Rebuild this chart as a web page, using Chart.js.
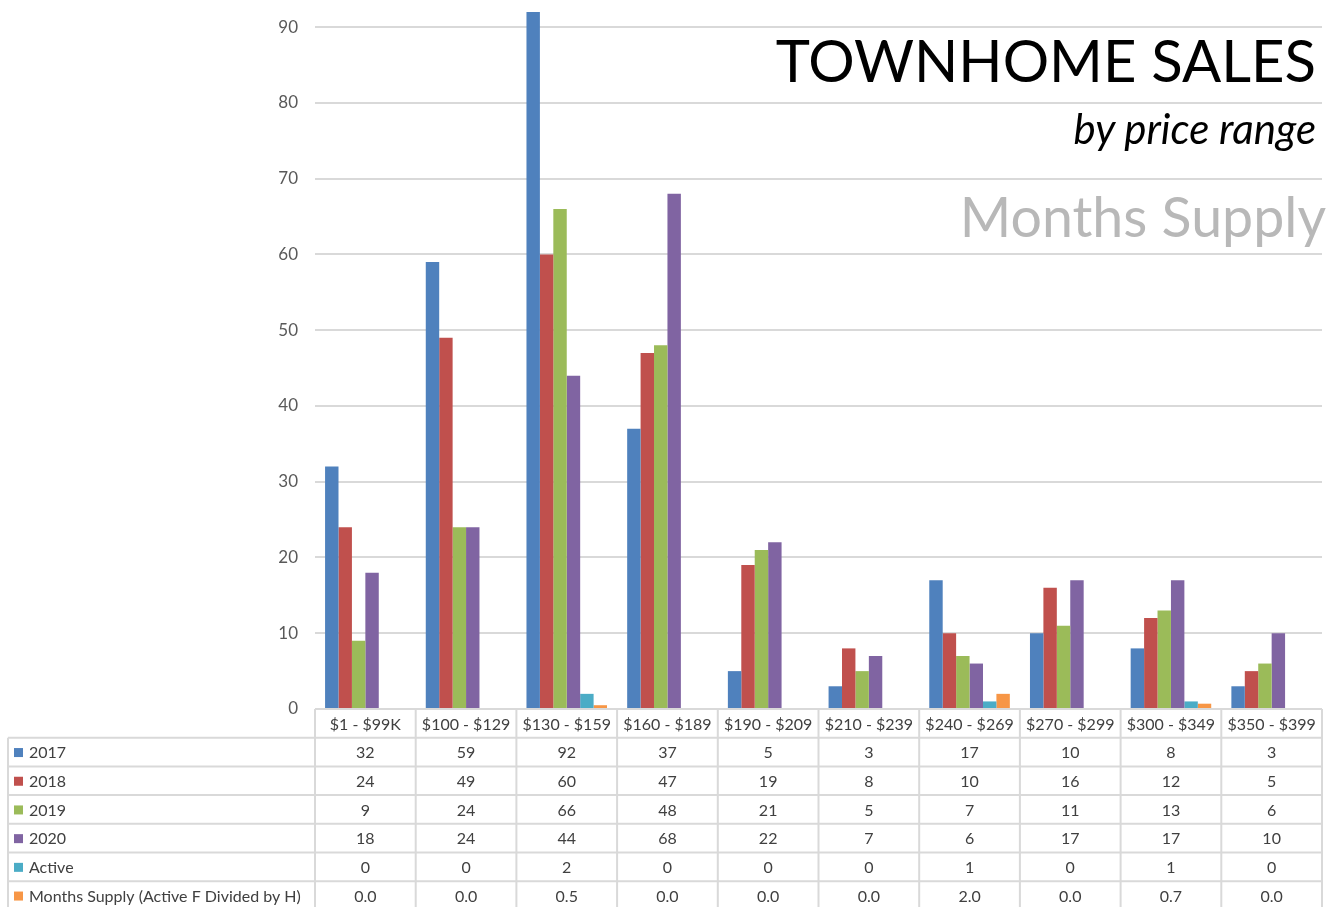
<!DOCTYPE html>
<html>
<head>
<meta charset="utf-8">
<script src="https://cdn.jsdelivr.net/npm/chart.js@4.4.0/dist/chart.umd.min.js"></script>
<style>
  body { margin: 0; background: #fff; overflow: hidden; }
  #wrap { position: relative; width: 1333px; height: 907px; }
  .title { position: absolute; font-family: Lato, sans-serif; white-space: nowrap; line-height: 1; }
</style>
</head>
<body>
<div id="wrap">
  <canvas id="bar-chart"></canvas>
  <div class="title" style="right:17px; top:31px; font-size:58px; color:#000;">TOWNHOME SALES</div>
  <div class="title" style="right:17px; top:107px; font-size:42px; font-style:italic; color:#000;">by price range</div>
  <div class="title" style="right:7px; top:188px; font-size:55.5px; color:#b8b8b8;">Months Supply</div>
</div>
<script>
const categories = ['$1 - $99K', '$100 - $129', '$130 - $159', '$160 - $189', '$190 - $209',
                    '$210 - $239', '$240 - $269', '$270 - $299', '$300 - $349', '$350 - $399'];
const sales2017 = [32, 59, 92, 37, 5, 3, 17, 10, 8, 3];
const sales2018 = [24, 49, 60, 47, 19, 8, 10, 16, 12, 5];
const sales2019 = [9, 24, 66, 48, 21, 5, 7, 11, 13, 6];
const sales2020 = [18, 24, 44, 68, 22, 7, 6, 17, 17, 10];
const active = [0, 0, 2, 0, 0, 0, 1, 0, 1, 0];
const monthsSupply = [0.0, 0.0, 0.5, 0.0, 0.0, 0.0, 2.0, 0.0, 0.7, 0.0];
const yTickValues = [0, 10, 20, 30, 40, 50, 60, 70, 80, 90];

const ctx = document.getElementById('bar-chart');
const textColor = '#595959';
const lineColor = '#d9d9d9';

const series = [
  { label: '2017', data: sales2017, color: '#4f81bd', fmt: v => String(v) },
  { label: '2018', data: sales2018, color: '#c0504d', fmt: v => String(v) },
  { label: '2019', data: sales2019, color: '#9bbb59', fmt: v => String(v) },
  { label: '2020', data: sales2020, color: '#8064a2', fmt: v => String(v) },
  { label: 'Active', data: active, color: '#4bacc6', fmt: v => String(v) },
  { label: 'Months Supply (Active F Divided by H)', data: monthsSupply, color: '#f79646', fmt: v => v.toFixed(1) }
];

// draws the data table under the plot, lined up with the x scale
const dataTable = {
  id: 'dataTable',
  afterDraw(chart) {
    const c = chart.ctx;
    const area = chart.chartArea;
    const x = chart.scales.x;
    const colW = x.width / categories.length;
    const rowH = 28.7;
    const top = area.bottom;
    const left = 8;
    const nRows = series.length + 1;
    const bottom = top + rowH * nRows;

    c.save();
    c.strokeStyle = lineColor;
    c.lineWidth = 2;
    c.beginPath();
    // horizontal lines
    c.moveTo(area.left, top); c.lineTo(area.right, top);
    for (let r = 1; r <= nRows; r++) {
      c.moveTo(left, top + rowH * r); c.lineTo(area.right, top + rowH * r);
    }
    // vertical lines
    c.moveTo(left, top + rowH); c.lineTo(left, bottom);
    for (let i = 0; i <= categories.length; i++) {
      const xx = area.left + colW * i;
      c.moveTo(xx, top); c.lineTo(xx, bottom);
    }
    c.stroke();

    c.font = '16px Lato, sans-serif';
    c.fillStyle = '#404040';
    c.textAlign = 'center';
    c.textBaseline = 'middle';
    categories.forEach((cat, i) => {
      c.fillText(cat, x.getPixelForValue(i), top + rowH / 2 + 1);
    });

    series.forEach((s, r) => {
      const cy = top + rowH * (r + 1.5) + 1;
      c.fillStyle = s.color;
      c.fillRect(14, cy - 5, 9, 9);
      c.fillStyle = '#404040';
      c.textAlign = 'left';
      c.fillText(s.label, 29, cy);
      c.textAlign = 'center';
      s.data.forEach((v, i) => {
        c.fillText(s.fmt(v), x.getPixelForValue(i), cy);
      });
    });
    c.restore();
  }
};

new Chart(ctx, {
  type: 'bar',
  data: {
    labels: categories,
    datasets: series.map(s => ({
      label: s.label,
      data: s.data,
      backgroundColor: s.color,
      borderWidth: 0,
      clip: false,
      categoryPercentage: 0.8,
      barPercentage: 1.0
    }))
  },
  options: {
    responsive: true,
    maintainAspectRatio: false,
    animation: false,
    layout: { padding: { left: 0, right: 11, top: 0, bottom: 198 } },
    plugins: {
      legend: { display: false },
      tooltip: { enabled: false }
    },
    scales: {
      x: {
        display: false
      },
      y: {
        min: 0,
        max: 90,
        afterBuildTicks: scale => {
          scale.ticks = yTickValues.map(v => ({ value: v }));
        },
        afterFit: scale => { scale.width = 315; },
        border: { display: false },
        grid: { color: lineColor, lineWidth: 2, drawTicks: false },
        ticks: {
          color: textColor,
          padding: 17,
          font: { family: 'Lato', size: 17 }
        }
      }
    }
  },
  plugins: [dataTable]
});
</script>
</body>
</html>
